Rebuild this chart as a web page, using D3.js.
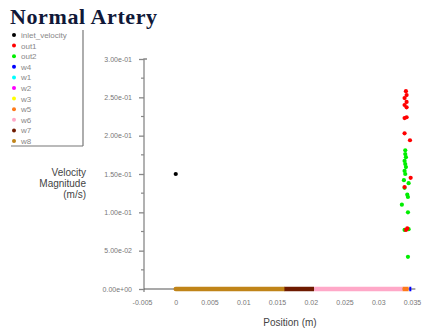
<!DOCTYPE html>
<html>
<head>
<meta charset="utf-8">
<script src="https://cdn.jsdelivr.net/npm/d3@7"></script>
<style>
  body { margin: 0; background: #fff; }
  svg { display: block; }
</style>
</head>
<body>
<svg id="chart" width="426" height="334"></svg>
<script>
/* ------------------------------- data -------------------------------- */
const seriesNames  = ['inlet_velocity','out1','out2','w4','w1','w2','w3','w5','w6','w7','w8'];
const seriesColors = ['#000000','#ff0000','#00ee00','#0000ff','#00ffff','#ff00ff','#ffff00','#ff7a1a','#ffa8c8','#6e1a00','#c08418'];

const inletPts = [[0, 0.150]];
const out1Pts = [
  [0.0341,0.258],[0.0342,0.253],[0.0339,0.249],[0.0342,0.244],[0.0339,0.240],[0.0342,0.237],
  [0.0342,0.224],[0.0339,0.223],[0.0339,0.203],[0.0347,0.194],[0.0348,0.145],[0.0339,0.133],
  [0.0341,0.077],[0.0343,0.079]
];
const out2Pts = [
  [0.0340,0.181],[0.0340,0.176],[0.0341,0.172],[0.0339,0.167],[0.0340,0.163],[0.0341,0.159],
  [0.0339,0.154],[0.0340,0.150],[0.0338,0.142],[0.0345,0.138],[0.0339,0.132],[0.0343,0.123],
  [0.0344,0.120],[0.0335,0.110],[0.0344,0.100],[0.0339,0.077],[0.0345,0.078],[0.0344,0.042]
];
// wall zones: velocity 0 along [start, end] position
const wallSegs = [
  {name:'w8', from:0.0000, to:0.0161},
  {name:'w7', from:0.0161, to:0.0205},
  {name:'w6', from:0.0205, to:0.0336},
  {name:'w5', from:0.0336, to:0.0345},
  {name:'w4', from:0.0346, to:0.0349}
];

const yTicks = [0, 0.05, 0.10, 0.15, 0.20, 0.25, 0.30];
const xTicks = [-0.005, 0, 0.005, 0.01, 0.015, 0.02, 0.025, 0.03, 0.035];

/* ------------------------------- setup ------------------------------- */
const svg = d3.select('#chart');
const color = d3.scaleOrdinal().domain(seriesNames).range(seriesColors);

const xScale = d3.scaleLinear().domain([-0.005, 0.035]).range([142, 412]);
const yScale = d3.scaleLinear().domain([0, 0.30]).range([289, 59]);
const X0 = 144;

// title
svg.append('text')
  .attr('x', 10).attr('y', 24)
  .attr('font-family', 'Liberation Serif, serif')
  .attr('font-weight', 'bold')
  .attr('font-size', 22)
  .attr('letter-spacing', 0.6)
  .attr('fill', '#101838')
  .text('Normal Artery');

// legend
const leg = svg.append('g');
leg.append('line').attr('x1', 83).attr('x2', 83).attr('y1', 30).attr('y2', 146)
  .attr('stroke', '#777').attr('stroke-width', 1.2);
leg.append('line').attr('x1', 11).attr('x2', 83).attr('y1', 146).attr('y2', 146)
  .attr('stroke', '#777').attr('stroke-width', 1.2);
seriesNames.forEach((n, i) => {
  const y = 35 + i * 10.6;
  leg.append('circle').attr('cx', 14).attr('cy', y).attr('r', 2).attr('fill', color(n));
  leg.append('text').attr('x', 21).attr('y', y + 3)
    .attr('font-family', 'Liberation Sans, Arial, sans-serif')
    .attr('font-size', 8).attr('fill', '#888')
    .text(n);
});

// y axis
const yAxis = d3.axisLeft(yScale).tickValues(yTicks).tickSize(5)
  .tickFormat(d => d.toExponential(2).replace(/e([+-])(\d)$/, 'e$10$2'));
const yAxisG = svg.append('g').attr('transform', `translate(${X0},0)`).call(yAxis);
yAxisG.select('.domain').attr('d', `M3,${yScale(0.30)}H0V${yScale(0) + 3}`);
yAxisG.selectAll('path,line').attr('stroke', '#888').attr('stroke-width', 1.3);
yAxisG.selectAll('text').attr('x', -12)
  .attr('font-family', 'Liberation Sans, Arial, sans-serif')
  .attr('font-size', 7).attr('fill', '#777');
// minor ticks
yTicks.slice(0, -1).forEach(v => {
  yAxisG.append('line').attr('x1', -3).attr('x2', 0)
    .attr('y1', yScale(v + 0.025)).attr('y2', yScale(v + 0.025))
    .attr('stroke', '#888').attr('stroke-width', 1.2);
});

// x axis
const xAxis = d3.axisBottom(xScale).tickValues(xTicks).tickSize(0)
  .tickFormat(d => d === 0 ? '0' : String(+d.toFixed(3)));
const xAxisG = svg.append('g').attr('transform', `translate(0,${yScale(0)})`).call(xAxis);
xAxisG.select('.domain').attr('d', `M${X0},0H${xScale(0.0355)}`);
xAxisG.selectAll('path,line').attr('stroke', '#555').attr('stroke-width', 1.2);
xAxisG.selectAll('text').attr('dy', 0).attr('y', 16)
  .attr('font-family', 'Liberation Sans, Arial, sans-serif')
  .attr('font-size', 7).attr('fill', '#777');

// axis titles
const yTitle = svg.append('text')
  .attr('text-anchor', 'end')
  .attr('font-family', 'Liberation Sans, Arial, sans-serif')
  .attr('font-size', 10).attr('fill', '#444');
['Velocity', 'Magnitude', '(m/s)'].forEach((t, i) => {
  yTitle.append('tspan').attr('x', 86).attr('y', 176 + i * 11).text(t);
});
svg.append('text')
  .attr('x', 290).attr('y', 326)
  .attr('text-anchor', 'middle')
  .attr('font-family', 'Liberation Sans, Arial, sans-serif')
  .attr('font-size', 10).attr('fill', '#444')
  .text('Position (m)');

// wall zones (zero velocity)
svg.append('g').selectAll('line')
  .data(wallSegs)
  .join('line')
  .attr('x1', d => xScale(d.from)).attr('x2', d => xScale(d.to))
  .attr('y1', yScale(0)).attr('y2', yScale(0))
  .attr('stroke', d => color(d.name))
  .attr('stroke-width', 4.5)
  .attr('stroke-linecap', d => d.name === 'w8' ? 'round' : 'butt');

// points
const pts = [
  ...out2Pts.map(p => ({s:'out2', x:p[0], y:p[1]})),
  ...out1Pts.map(p => ({s:'out1', x:p[0], y:p[1]})),
  ...inletPts.map(p => ({s:'inlet_velocity', x:p[0], y:p[1]}))
];
svg.append('g').selectAll('circle')
  .data(pts)
  .join('circle')
  .attr('cx', d => xScale(d.x))
  .attr('cy', d => yScale(d.y))
  .attr('r', 2.1)
  .attr('fill', d => color(d.s));
</script>
</body>
</html>
